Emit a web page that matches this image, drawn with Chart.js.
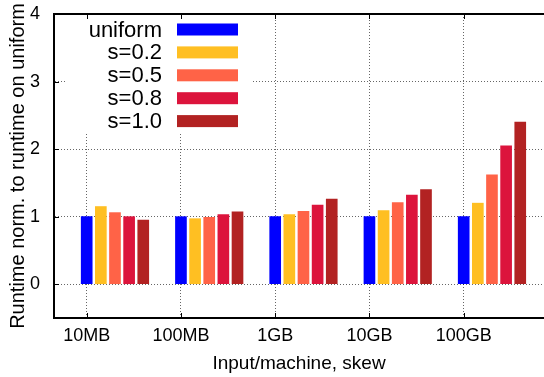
<!DOCTYPE html>
<html lang="en">
<head>
    <meta charset="UTF-8">
    <title>Runtime vs skew</title>
    <style>
        * {
            margin: 0;
            padding: 0;
            box-sizing: border-box;
        }
        body {
            background: #fff;
        }
        .chart-box {
            width: 544px;
            height: 377px;
        }
    </style>
</head>
<body>
    <div class="chart-box">
        <canvas id="runtimeChart"></canvas>
    </div>

    <script src="https://cdn.jsdelivr.net/npm/chart.js"></script>
    <script>
        // Data
        const categories = ['10MB', '100MB', '1GB', '10GB', '100GB'];
        const seriesLabels = ['uniform', 's=0.2', 's=0.5', 's=0.8', 's=1.0'];
        const uniform = [1.00, 1.00, 1.00, 1.00, 1.00];
        const skew02 = [1.15, 0.97, 1.03, 1.09, 1.20];
        const skew05 = [1.06, 0.99, 1.08, 1.21, 1.62];
        const skew08 = [1.00, 1.03, 1.17, 1.32, 2.05];
        const skew10 = [0.95, 1.07, 1.26, 1.40, 2.40];
        const yTicks = [0, 1, 2, 3, 4];

        const seriesValues = [uniform, skew02, skew05, skew08, skew10];
        const seriesColors = ['#0000ff', '#ffbf22', '#ff6347', '#dc143c', '#b22222'];

        // each series is shifted right of its category tick
        const barStep = 0.15;
        const fontFamily = "'Liberation Sans', Arial, sans-serif";

        const datasets = seriesValues.map((values, k) => ({
            label: seriesLabels[k],
            data: values.map((v, i) => ({ x: i + k * barStep, y: v })),
            backgroundColor: seriesColors[k],
            borderWidth: 0,
            grouped: false,
            barThickness: 11,
            maxBarThickness: 11
        }));

        // legend in the upper left: label first, colour box after it
        const boxLegend = {
            id: 'boxLegend',
            afterDatasetsDraw(chart) {
                const ctx = chart.ctx;
                ctx.save();
                ctx.fillStyle = '#fff';
                ctx.fillRect(67, 16, 184, 117);
                ctx.font = '22px ' + fontFamily;
                ctx.textAlign = 'right';
                ctx.textBaseline = 'middle';
                chart.data.datasets.forEach((ds, k) => {
                    const y = 29.5 + k * 22.9;
                    ctx.fillStyle = '#000';
                    ctx.fillText(ds.label, 162, y + 1);
                    ctx.fillStyle = ds.backgroundColor;
                    ctx.fillRect(177, y - 6, 61, 12);
                });
                ctx.restore();
            }
        };

        // top border and the small inward tick marks
        const frame = {
            id: 'frame',
            afterDraw(chart) {
                const { ctx, chartArea } = chart;
                const xs = chart.scales.x;
                const ys = chart.scales.y;
                ctx.save();
                ctx.strokeStyle = '#000';
                ctx.lineWidth = 2;
                ctx.beginPath();
                ctx.moveTo(chartArea.left - 1, chartArea.top);
                ctx.lineTo(chartArea.right + 2, chartArea.top);
                ctx.stroke();
                ctx.lineWidth = 1;
                ctx.beginPath();
                xs.ticks.forEach((t, i) => {
                    const px = Math.round(xs.getPixelForTick(i)) + 0.5;
                    ctx.moveTo(px, chartArea.top);
                    ctx.lineTo(px, chartArea.top + 5);
                    ctx.moveTo(px, chartArea.bottom);
                    ctx.lineTo(px, chartArea.bottom - 5);
                });
                ys.ticks.forEach((t, i) => {
                    const py = Math.round(ys.getPixelForTick(i)) + 0.5;
                    ctx.moveTo(chartArea.left, py);
                    ctx.lineTo(chartArea.left + 5, py);
                });
                ctx.stroke();
                ctx.restore();
            }
        };

        new Chart(document.getElementById('runtimeChart'), {
            type: 'bar',
            data: { datasets: datasets },
            plugins: [boxLegend, frame],
            options: {
                responsive: true,
                maintainAspectRatio: false,
                animation: false,
                layout: { padding: { top: 14, right: 0, left: 0, bottom: 0 } },
                plugins: {
                    legend: { display: false },
                    tooltip: { enabled: false }
                },
                scales: {
                    x: {
                        type: 'linear',
                        min: -0.347,
                        max: 4.852,
                        offset: false,
                        afterFit: scale => {
                            scale.height = 59;
                            scale.paddingLeft = 0;
                            scale.paddingRight = 0;
                        },
                        afterBuildTicks: scale => {
                            scale.ticks = categories.map((c, i) => ({ value: i }));
                        },
                        grid: {
                            offset: false,
                            drawTicks: false,
                            color: 'rgba(0,0,0,0.6)',
                            lineWidth: 1
                        },
                        border: { display: true, color: '#000', width: 2, dash: [1, 2] },
                        ticks: {
                            padding: 7,
                            color: '#000',
                            font: { family: fontFamily, size: 18 },
                            callback: value => categories[value]
                        },
                        title: {
                            display: true,
                            text: 'Input/machine, skew',
                            color: '#000',
                            font: { family: fontFamily, size: 19 },
                            padding: { top: 0, bottom: 2 }
                        }
                    },
                    y: {
                        min: -0.5,
                        max: 4,
                        afterFit: scale => {
                            scale.width = 54;
                            scale.paddingTop = 0;
                            scale.paddingBottom = 0;
                        },
                        afterBuildTicks: scale => {
                            scale.ticks = yTicks.map(v => ({ value: v }));
                        },
                        grid: {
                            drawTicks: false,
                            color: 'rgba(0,0,0,0.6)',
                            lineWidth: 1
                        },
                        border: { display: true, color: '#000', width: 2, dash: [1, 2] },
                        ticks: {
                            padding: 14,
                            color: '#000',
                            font: { family: fontFamily, size: 18 }
                        },
                        title: {
                            display: true,
                            text: 'Runtime norm. to runtime on uniform',
                            color: '#000',
                            font: { family: fontFamily, size: 20 },
                            padding: { top: 6, bottom: 0 }
                        }
                    }
                }
            }
        });
    </script>
</body>
</html>
